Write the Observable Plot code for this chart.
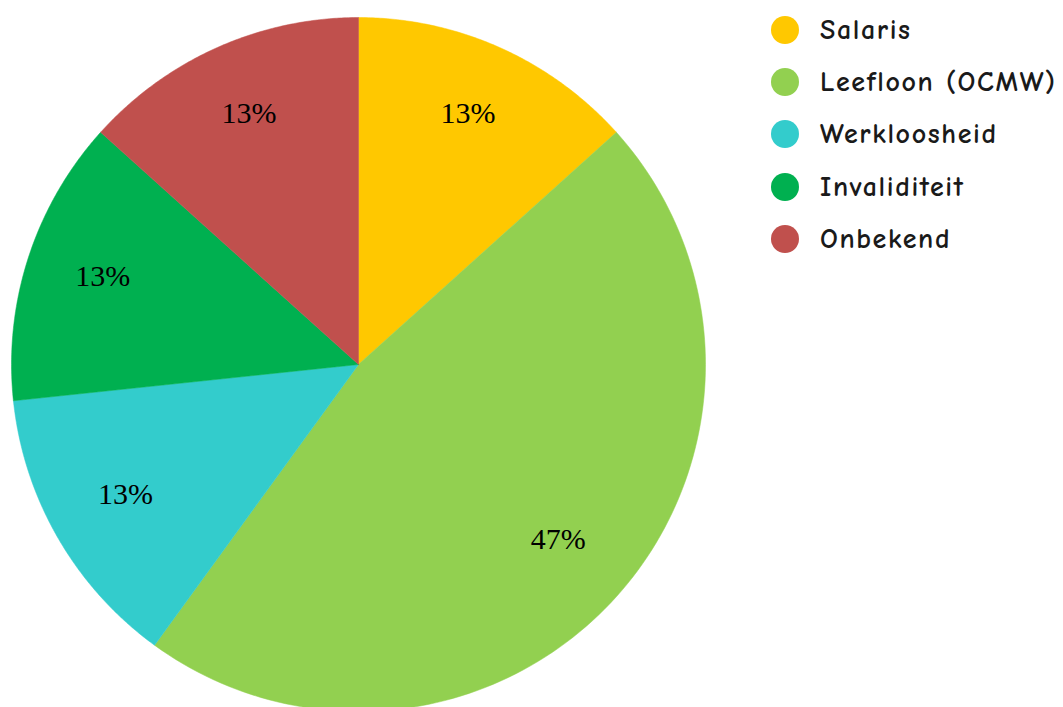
<!DOCTYPE html>
<html>
<head>
<meta charset="utf-8">
<script src="https://cdn.jsdelivr.net/npm/d3@7"></script>
<script src="https://cdn.jsdelivr.net/npm/@observablehq/plot@0.6"></script>
<style>
  html, body { margin: 0; padding: 0; background: #fff; }
  #wrap { position: relative; width: 1063px; height: 707px; overflow: hidden; }
  #legend { position: absolute; left: 771px; top: 4px; font-family: "Comic Neue", "Comic Sans MS", "DejaVu Sans", sans-serif; font-size: 28px; letter-spacing: 1.6px; font-weight: 700; color: #1a1a1a; white-space: nowrap; }
  .row { display: flex; align-items: center; height: 52.2px; }
  .sw { width: 28px; height: 28px; border-radius: 50%; margin-right: 21px; flex: none; }
</style>
</head>
<body>
<div id="wrap"><div id="chart"></div><div id="legend"></div></div>
<script>
const categories = ["Salaris", "Leefloon (OCMW)", "Werkloosheid", "Invaliditeit", "Onbekend"];
const values = [2, 7, 2, 2, 2];
const labels = ["13%", "47%", "13%", "13%", "13%"];
const colors = ["#FFC800", "#92D050", "#33CCCC", "#00B050", "#C0504D"];

const arcs = d3.pie().sort(null)(values);
const slices = [];
const labelRows = [];
arcs.forEach((a, i) => {
  const n = 120;
  slices.push({cat: categories[i], x: 0, y: 0, k: 0});
  for (let j = 0; j <= n; j++) {
    const t = a.startAngle + (a.endAngle - a.startAngle) * j / n;
    slices.push({cat: categories[i], x: Math.sin(t), y: Math.cos(t), k: j + 1});
  }
  slices.push({cat: categories[i], x: 0, y: 0, k: n + 2});
  const m = (a.startAngle + a.endAngle) / 2;
  labelRows.push({cat: categories[i], label: labels[i], x: 0.775 * Math.sin(m), y: 0.775 * Math.cos(m)});
});

const chart = Plot.plot({
  width: 1063,
  height: 707,
  x: {domain: [-1, 1], range: [11, 705], axis: null},
  y: {domain: [-1, 1], range: [711, 17], axis: null},
  color: {domain: categories, range: colors},
  marks: [
    Plot.line(slices, {x: "x", y: "y", z: "cat", fill: "cat", stroke: "cat", strokeWidth: 0.5, curve: "linear"}),
    Plot.text(labelRows, {x: "x", y: "y", text: "label", fontSize: 30, fontFamily: "Liberation Serif, Times New Roman, serif", fill: "black", dy: -5})
  ]
});
document.getElementById("chart").appendChild(chart);

const legend = document.getElementById("legend");
categories.forEach((c, i) => {
  const row = document.createElement("div");
  row.className = "row";
  const sw = document.createElement("div");
  sw.className = "sw";
  sw.style.background = colors[i];
  const tx = document.createElement("span");
  tx.textContent = c;
  row.appendChild(sw);
  row.appendChild(tx);
  legend.appendChild(row);
});
</script>
</body>
</html>
